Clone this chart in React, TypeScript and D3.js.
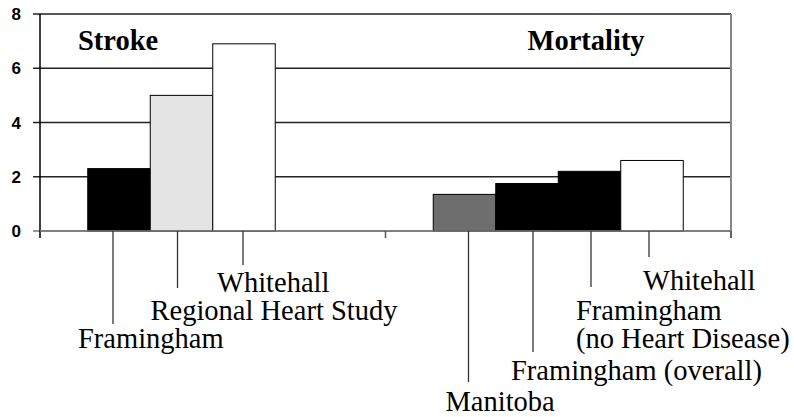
import React from "react";
import * as d3 from "d3";

// chart data
const groups = ["Stroke", "Mortality"];
const seriesSlots = [0, 1, 2, 3];
const strokeStudies = ["Framingham", "Regional Heart Study", "Whitehall"];
const strokeValues = [2.3, 5.0, 6.9];
const strokeFills = ["#000000", "#e4e4e4", "#ffffff"];
const mortalityStudies = ["Manitoba", "Framingham (overall)", "Framingham\n(no Heart Disease)", "Whitehall"];
const mortalityValues = [1.35, 1.75, 2.2, 2.6];
const mortalityFills = ["#6e6e6e", "#000000", "#000000", "#ffffff"];
const yTicks = [0, 2, 4, 6, 8];

// annotation layout (leader line offset, line end, text offset, baseline)
const strokeLabelLayout = [
  { lineDx: -6, lineEnd: 324, textDx: -35, baseline: 348 },
  { lineDx: -4, lineEnd: 288, textDx: -27, baseline: 320 },
  { lineDx: -1, lineEnd: 265, textDx: -26, baseline: 292 },
];
const mortalityLabelLayout = [
  { lineDx: 4, lineEnd: 382, textDx: -23, baseline: 411 },
  { lineDx: 6, lineEnd: 352, textDx: -22, baseline: 380 },
  { lineDx: 1.5, lineEnd: 287, textDx: -15, baseline: 320 },
  { lineDx: -3, lineEnd: 257, textDx: -6, baseline: 290 },
];

const width = 794;
const height = 417;
const margin = { top: 14, right: 63, bottom: 186, left: 40 };

const serif = "Liberation Serif";
const sans = "Liberation Sans";

const App = () => {
  const x = d3
    .scaleBand()
    .domain(groups)
    .range([margin.left, width - margin.right])
    .padding(0);
  const xi = d3
    .scaleBand<number>()
    .domain(seriesSlots)
    .range([0, x.bandwidth()])
    .paddingInner(0)
    .paddingOuter(0.764);
  const y = d3
    .scaleLinear()
    .domain([0, 8])
    .range([height - margin.bottom, margin.top]);

  const bars = [
    ...strokeValues.map((v, i) => ({
      group: "Stroke",
      slot: i,
      value: v,
      fill: strokeFills[i],
      label: strokeStudies[i],
      layout: strokeLabelLayout[i],
    })),
    ...mortalityValues.map((v, i) => ({
      group: "Mortality",
      slot: i,
      value: v,
      fill: mortalityFills[i],
      label: mortalityStudies[i],
      layout: mortalityLabelLayout[i],
    })),
  ];

  const x0 = margin.left;
  const x1 = width - margin.right;
  const y0 = y(0);

  return (
    <svg
      width={width}
      height={height}
      style={{ position: "absolute", left: 0, top: 0, background: "#fff" }}
    >
      {/* gridlines with outside ticks */}
      {yTicks.map((t) => (
        <line
          key={"g" + t}
          x1={x0 - 7}
          x2={x1}
          y1={y(t)}
          y2={y(t)}
          stroke={t === 0 ? "#777" : "#222"}
          strokeWidth={1.5}
        />
      ))}
      {yTicks.map((t) => (
        <text
          key={"t" + t}
          x={21}
          y={y(t) + 6}
          textAnchor="end"
          style={{ fontFamily: sans, fontWeight: 700, fontSize: "17px" }}
          fill="#000"
        >
          {t}
        </text>
      ))}

      {/* bars */}
      {bars.map((b) => {
        const bx = (x(b.group) ?? 0) + (xi(b.slot) ?? 0);
        return (
          <rect
            key={b.group + b.slot}
            x={bx}
            y={y(b.value)}
            width={xi.bandwidth()}
            height={y0 - y(b.value)}
            fill={b.fill}
            stroke="#000"
            strokeWidth={1}
          />
        );
      })}

      {/* axes */}
      <line x1={x0} x2={x0} y1={margin.top} y2={y0 + 7} stroke="#000" strokeWidth={1.5} />
      <line x1={x1} x2={x1} y1={margin.top} y2={y0 + 7} stroke="#888" strokeWidth={2} />
      <line x1={x0} x2={x1} y1={y0} y2={y0} stroke="#777" strokeWidth={1.5} />
      {groups.map((g) => (
        <line
          key={"ct" + g}
          x1={(x(g) ?? 0) + x.bandwidth()}
          x2={(x(g) ?? 0) + x.bandwidth()}
          y1={y0}
          y2={y0 + 7}
          stroke="#555"
          strokeWidth={1.5}
        />
      ))}

      {/* group titles */}
      {groups.map((g, i) => (
        <text
          key={"h" + g}
          x={i === 0 ? (x(g) ?? 0) + 38 : (x(g) ?? 0) + 142}
          y={50}
          style={{ fontFamily: serif, fontWeight: 700, fontSize: "28.5px" }}
          fill="#000"
        >
          {g}
        </text>
      ))}

      {/* leader lines and labels */}
      {bars.map((b) => {
        const cx = (x(b.group) ?? 0) + (xi(b.slot) ?? 0) + xi.bandwidth() / 2 + b.layout.lineDx;
        return (
          <g key={"l" + b.group + b.slot}>
            <line x1={cx} x2={cx} y1={y0} y2={b.layout.lineEnd} stroke="#333" strokeWidth={1.3} />
            <text
              x={cx + b.layout.textDx}
              y={b.layout.baseline}
              style={{ fontFamily: serif, fontSize: "28.5px" }}
              fill="#000"
            >
              {b.label.split("\n").map((line, k) => (
                <tspan key={k} x={cx + b.layout.textDx} dy={k === 0 ? 0 : 28}>
                  {line}
                </tspan>
              ))}
            </text>
          </g>
        );
      })}
    </svg>
  );
};

export default App;
